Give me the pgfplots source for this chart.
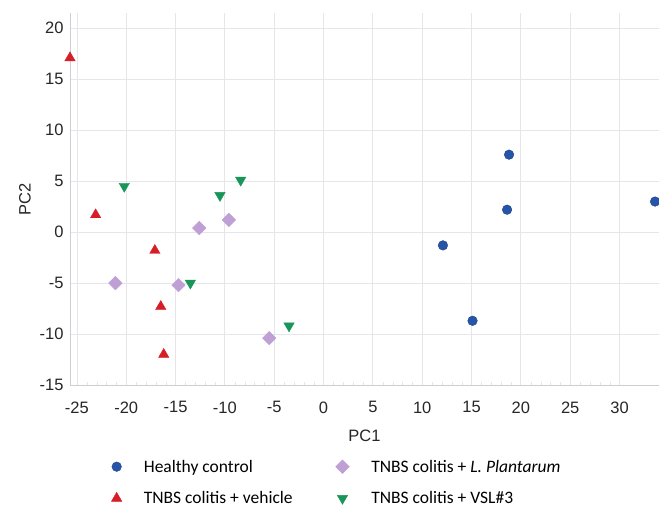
\documentclass[border=0pt]{standalone}
\usepackage{fontspec}
\setmainfont{Liberation Sans}
\newfontfamily\legfont{Carlito}
\usepackage{pgfplots}
\pgfplotsset{compat=1.18}
\definecolor{hc}{RGB}{38,84,168}
\definecolor{veh}{RGB}{214,30,40}
\definecolor{lp}{RGB}{190,160,212}
\definecolor{vsl}{RGB}{24,150,90}
\definecolor{gridc}{RGB}{230,230,234}
\definecolor{axc}{RGB}{205,205,210}
\begin{document}
\begin{tikzpicture}
\useasboundingbox (-70bp,-124bp) rectangle (589bp,385bp);
\begin{axis}[
  at={(0,0)}, anchor=south west,
  scale only axis, width=589bp, height=372bp,
  xmin=-25.7, xmax=34, ymin=-15, ymax=21.5,
  xtick={-25,-20,...,30}, ytick={-15,-10,...,20},
  minor x tick num=4,
  axis lines*=left,
  axis line style={draw=axc, line width=0.8pt},
  tick style={draw=gridc},
  major tick length=0pt, minor tick length=3bp,
  grid=major, major grid style={draw=gridc, line width=0.8pt},
  /pgf/number format/assume math mode=true,
  ticklabel style={font=\fontsize{16.5bp}{18bp}\selectfont, text=black!85},
  xticklabel style={yshift=-13bp},
  yticklabel style={xshift=-3bp},
  xlabel={PC1}, ylabel={PC2},
  label style={font=\fontsize{16.5bp}{18bp}\selectfont, text=black!85},
  xlabel style={yshift=-10bp},
  ylabel style={yshift=2bp},
  legend columns=2,
  legend cell align=left,
  legend style={draw=none, fill=none, at={(0.065,-0.19)}, anchor=north west,
    font=\legfont\fontsize{17.5bp}{19bp}\selectfont,
    /tikz/every odd column/.append style={column sep=20bp},
    /tikz/every even column/.append style={column sep=41bp},
    row sep=14bp},
]
\addplot[only marks, mark=*, mark size=4.8bp, color=hc, mark options={fill=hc, draw=hc!80!black}]
 coordinates {(18.8,7.6) (18.6,2.2) (12.1,-1.3) (15.1,-8.7) (33.6,3.0)};
\addlegendentry{Healthy control}
\addplot[only marks, mark=square*, mark size=4.8bp, color=lp, mark options={fill=lp, draw=lp, rotate=45}]
 coordinates {(-21.1,-5.0) (-14.7,-5.2) (-12.6,0.4) (-9.6,1.2) (-5.5,-10.4)};
\addlegendentry{TNBS colitis + \textit{L. Plantarum}}
\addplot[only marks, mark=triangle*, mark size=6bp, color=veh, mark options={fill=veh, draw=veh}]
 coordinates {(-25.7,17.1) (-23.1,1.7) (-17.1,-1.8) (-16.5,-7.3) (-16.2,-12.0)};
\addlegendentry{TNBS colitis + vehicle}
\addplot[only marks, mark=triangle*, mark size=6bp, color=vsl, mark options={fill=vsl, draw=vsl, rotate=180}]
 coordinates {(-20.2,4.5) (-10.5,3.6) (-8.4,5.1) (-13.5,-5.0) (-3.5,-9.2)};
\addlegendentry{TNBS colitis + VSL\#3}
\end{axis}
\end{tikzpicture}
\end{document}
